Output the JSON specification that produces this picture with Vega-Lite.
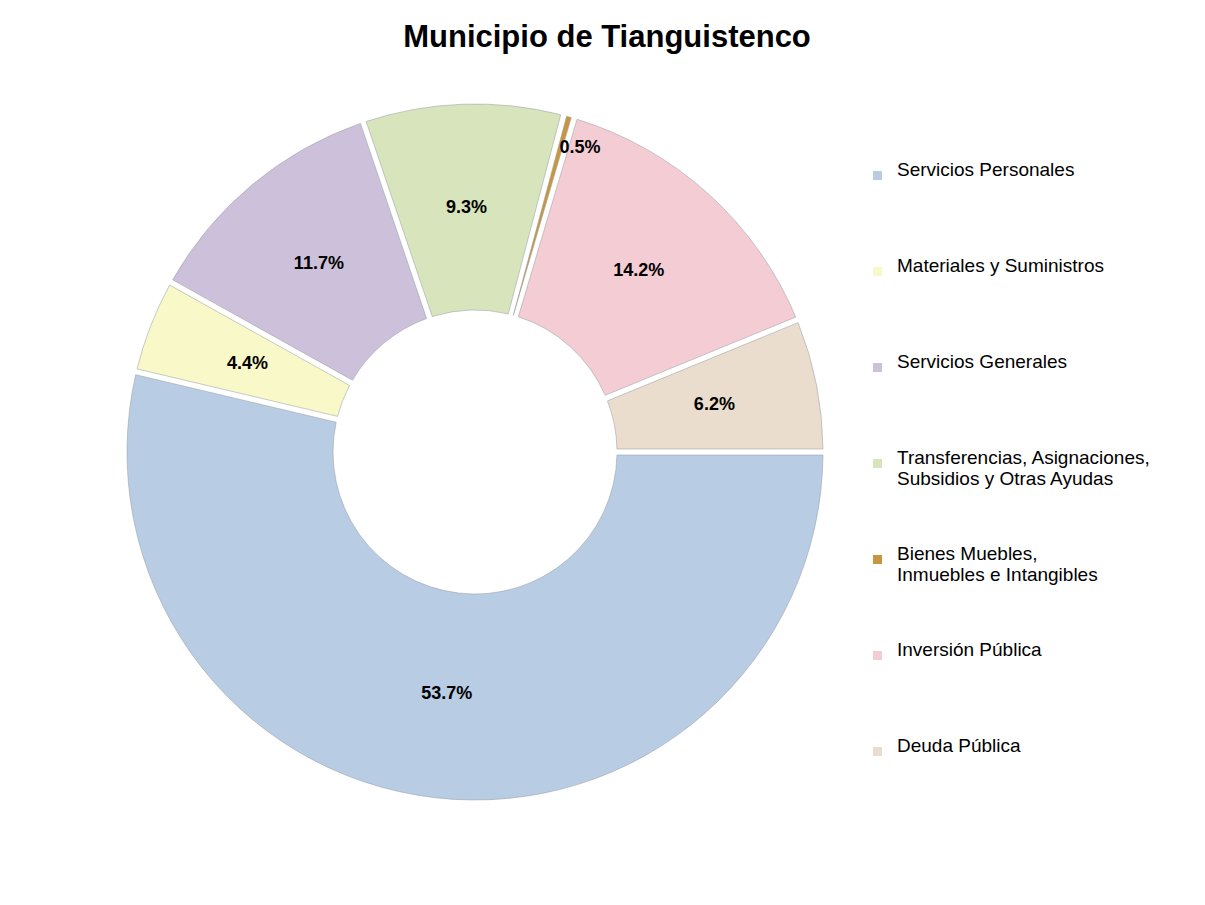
{
  "$schema": "https://vega.github.io/schema/vega-lite/v6.json",
  "autosize": {"type": "none"},
  "padding": {"left": 0, "top": 60, "right": 255, "bottom": 0},
  "width": 950,
  "height": 784,
  "background": "white",
  "title": {
    "text": "Municipio de Tianguistenco",
    "font": "Liberation Sans",
    "fontSize": 31,
    "fontWeight": "bold",
    "color": "#000000",
    "anchor": "middle",
    "dx": 132,
    "offset": 6
  },
  "config": {
    "view": {"stroke": null},
    "font": "Liberation Sans"
  },
  "data": {
    "values": [
      {"categoria": "Servicios Personales", "value": 53.7, "label": "53.7%", "order": 1},
      {"categoria": "Materiales y Suministros", "value": 4.4, "label": "4.4%", "order": 2},
      {"categoria": "Servicios Generales", "value": 11.7, "label": "11.7%", "order": 3},
      {"categoria": "Transferencias, Asignaciones, Subsidios y Otras Ayudas", "value": 9.3, "label": "9.3%", "order": 4},
      {"categoria": "Bienes Muebles, Inmuebles e Intangibles", "value": 0.5, "label": "0.5%", "order": 5},
      {"categoria": "Inversión Pública", "value": 14.2, "label": "14.2%", "order": 6},
      {"categoria": "Deuda Pública", "value": 6.2, "label": "6.2%", "order": 7}
    ]
  },
  "encoding": {
    "theta": {"field": "value", "type": "quantitative", "stack": true, "scale": {"range": [1.5708, 7.854]}},
    "order": {"field": "order", "type": "quantitative", "sort": "ascending"}
  },
  "layer": [
    {
      "mark": {"type": "arc", "radius": 348, "innerRadius": 142, "padAngle": 0.016, "stroke": "#9aa0a8", "strokeWidth": 1, "strokeOpacity": 0.55},
      "encoding": {
        "color": {
          "field": "categoria",
          "type": "nominal",
          "sort": null,
          "scale": {
            "domain": ["Servicios Personales", "Materiales y Suministros", "Servicios Generales", "Transferencias, Asignaciones, Subsidios y Otras Ayudas", "Bienes Muebles, Inmuebles e Intangibles", "Inversión Pública", "Deuda Pública"],
            "range": ["#b8cce4", "#f8f8c8", "#ccc0da", "#d7e4bc", "#c8963e", "#f4ccd3", "#eaddce"]
          },
          "legend": {
            "title": null,
            "orient": "none",
            "legendX": 868,
            "legendY": 106,
            "symbolType": "square",
            "symbolSize": 81,
            "symbolStrokeWidth": 0,
            "labelFont": "Liberation Sans",
            "labelFontSize": 19,
            "labelColor": "#000000",
            "labelLimit": 0,
            "labelOffset": 10,
            "labelBaseline": "alphabetic",
            "gridAlign": "all",
            "rowPadding": 55,
            "labelExpr": "datum.label == 'Transferencias, Asignaciones, Subsidios y Otras Ayudas' ? ['Transferencias, Asignaciones,', 'Subsidios y Otras Ayudas'] : datum.label == 'Bienes Muebles, Inmuebles e Intangibles' ? ['Bienes Muebles,', 'Inmuebles e Intangibles'] : datum.label"
          }
        }
      }
    },
    {
      "mark": {"type": "text", "radius": 244, "font": "Liberation Sans", "fontSize": 18, "fontWeight": "bold", "color": "#000000"},
      "encoding": {
        "text": {"condition": {"test": "datum.value >= 1", "field": "label", "type": "nominal"}, "value": ""}
      }
    },
    {
      "mark": {"type": "text", "radius": 322, "dx": 18, "dy": 6, "font": "Liberation Sans", "fontSize": 18, "fontWeight": "bold", "color": "#000000"},
      "encoding": {
        "text": {"condition": {"test": "datum.value < 1", "field": "label", "type": "nominal"}, "value": ""}
      }
    }
  ]
}
